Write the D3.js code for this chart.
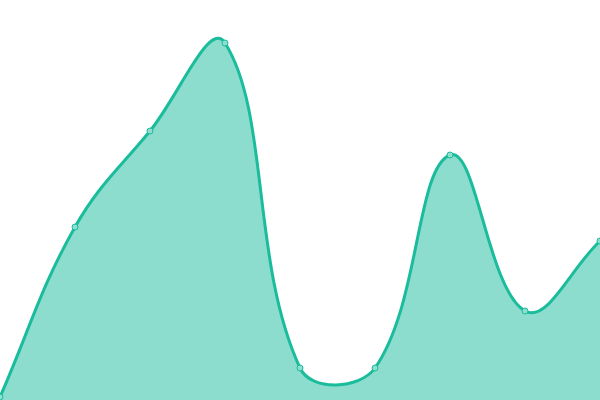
<!DOCTYPE html>
<html>
<head>
<meta charset="utf-8">
<script src="https://cdn.jsdelivr.net/npm/d3@7"></script>
<style>
  html, body { margin: 0; padding: 0; background: #fff; overflow: hidden; }
  svg { display: block; }
</style>
</head>
<body>
<div id="chart"></div>
<script>
// data
const categories = ["1", "2", "3", "4", "5", "6", "7", "8", "9"];
const values = [3, 173, 269, 357, 32, 32, 245, 89, 159];

const width = 600, height = 400;

const svg = d3.select("#chart")
  .append("svg")
  .attr("width", width)
  .attr("height", height);

const x = d3.scalePoint()
  .domain(categories)
  .range([0, width]);

const y = d3.scaleLinear()
  .domain([0, 400])
  .range([height, 0]);

const data = categories.map((c, i) => ({ name: c, value: values[i] }));

// spline with distance-weighted tangents (tension 0.4), control points kept inside the plot
function SplineCurve(context) { this._context = context; }
SplineCurve.prototype = {
  areaStart() { this._line = 0; },
  areaEnd() { this._line = NaN; },
  lineStart() { this._pts = []; },
  point(px, py) { this._pts.push([+px, +py]); },
  lineEnd() {
    const p = this._pts, n = p.length, ctx = this._context, t = 0.4;
    const cap = (v, lo, hi) => Math.max(Math.min(v, hi), lo);
    if (n) {
      if (this._line) ctx.lineTo(p[0][0], p[0][1]);
      else ctx.moveTo(p[0][0], p[0][1]);
      const cps = p.map((c, i) => {
        const prev = p[Math.max(i - 1, 0)], next = p[Math.min(i + 1, n - 1)];
        const d01 = Math.hypot(c[0] - prev[0], c[1] - prev[1]);
        const d12 = Math.hypot(next[0] - c[0], next[1] - c[1]);
        let s01 = d01 / (d01 + d12), s12 = d12 / (d01 + d12);
        if (isNaN(s01)) s01 = 0;
        if (isNaN(s12)) s12 = 0;
        const fa = t * s01, fb = t * s12;
        return {
          inX: cap(c[0] - fa * (next[0] - prev[0]), 0, width),
          inY: cap(c[1] - fa * (next[1] - prev[1]), 0, height),
          outX: cap(c[0] + fb * (next[0] - prev[0]), 0, width),
          outY: cap(c[1] + fb * (next[1] - prev[1]), 0, height)
        };
      });
      for (let i = 1; i < n; i++) {
        ctx.bezierCurveTo(cps[i - 1].outX, cps[i - 1].outY, cps[i].inX, cps[i].inY, p[i][0], p[i][1]);
      }
    }
    if (this._line || (this._line !== 0 && n === 1)) ctx.closePath();
    this._line = 1 - this._line;
  }
};
const curve = context => new SplineCurve(context);

// area
svg.append("path")
  .datum(data)
  .attr("fill", "rgba(26,188,156,0.5)")
  .attr("d", d3.area()
    .x(d => x(d.name))
    .y0(height)
    .y1(d => y(d.value))
    .curve(curve));

// line
svg.append("path")
  .datum(data)
  .attr("fill", "none")
  .attr("stroke", "#1abc9c")
  .attr("stroke-width", 3)
  .attr("d", d3.line()
    .x(d => x(d.name))
    .y(d => y(d.value))
    .curve(curve));

// points
svg.selectAll(".dot")
  .data(data)
  .enter()
  .append("circle")
  .attr("class", "dot")
  .attr("cx", d => x(d.name))
  .attr("cy", d => y(d.value))
  .attr("r", 3)
  .attr("fill", "#8ddece")
  .attr("stroke", "#1abc9c")
  .attr("stroke-width", 1);
</script>
</body>
</html>
